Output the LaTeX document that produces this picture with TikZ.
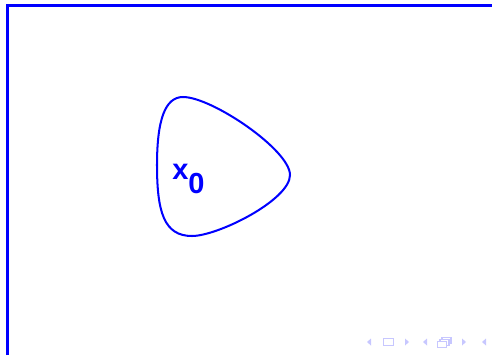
\documentclass[tikz,border=0pt]{standalone}
\usepackage{fontspec}
\setmainfont{Liberation Sans}

\begin{document}
\begin{tikzpicture}[x=0.02cm,y=-0.02cm,
  frm/.style={draw=blue,line width=1.2pt},
  blob/.style={draw=blue,line width=1.15pt,line join=round},
  lbl/.style={text=blue,font=\fontsize{16.5}{18}\selectfont\bfseries,inner sep=0pt},
  nav/.style={fill=blue!22,draw=none},
  navbox/.style={draw=blue!22,line width=0.7pt}]
  \useasboundingbox (0,0) rectangle (492,355);
  % frame edges
  \draw[frm] (7.5,355) -- (7.5,5.5) -- (492,5.5);
  % the set around x0
  \draw[blob] (157,165) .. controls (157,120) and (165,97) .. (183,97)
    .. controls (212,97) and (290,150) .. (290,175)
    .. controls (290,200) and (218,236) .. (192,236)
    .. controls (164,236) and (157,212) .. (157,165) -- cycle;
  \node[lbl,anchor=base west] (x0) at (172,179) {x\raisebox{-8.5pt}{0}};
  % navigation symbols
  \fill[nav] (367,342) -- (371,338.5) -- (371,345.5) -- cycle;
  \draw[navbox] (383.5,338.5) rectangle (393.5,345.5);
  \fill[nav] (409,342) -- (405,338.5) -- (405,345.5) -- cycle;
  \fill[nav] (423,342) -- (427,338.5) -- (427,345.5) -- cycle;
  \draw[navbox,fill=white] (442,337.5) rectangle (451,343.5);
  \draw[navbox,fill=white] (440,339.5) rectangle (449,345.5);
  \draw[navbox,fill=white] (437.5,341.5) rectangle (446.5,347.5);
  \fill[nav] (466,342) -- (462,338.5) -- (462,345.5) -- cycle;
  \fill[nav] (482,342) -- (486,338.5) -- (486,345.5) -- cycle;
\end{tikzpicture}
\end{document}
